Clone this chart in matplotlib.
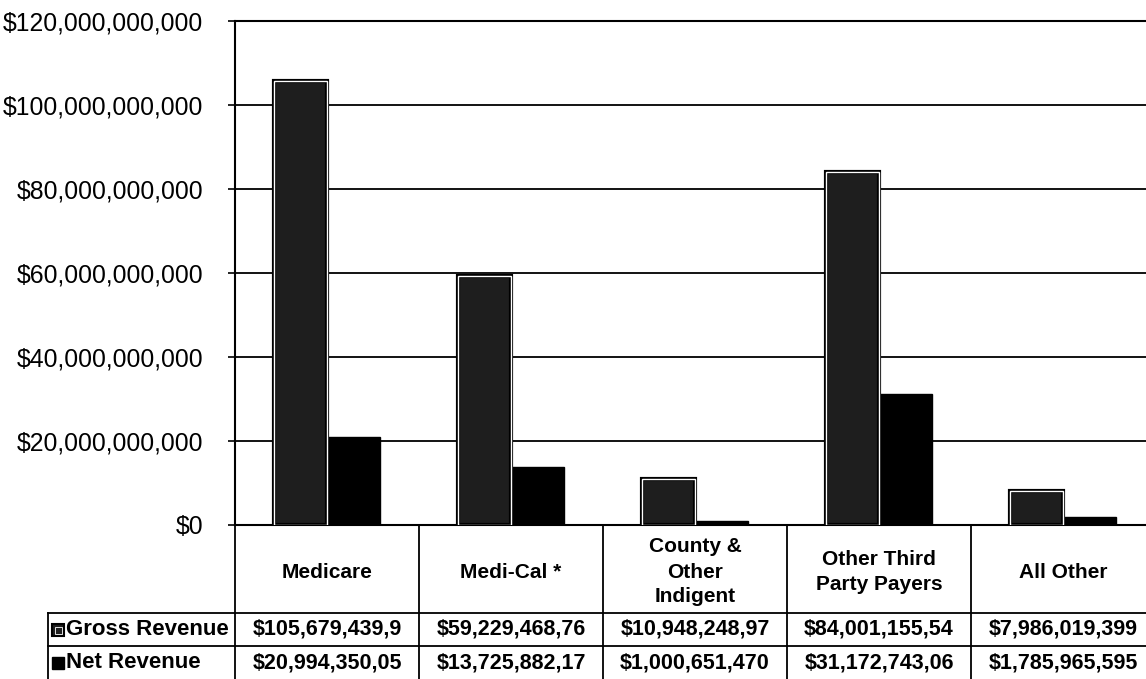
import matplotlib
matplotlib.use('Agg')
import matplotlib.pyplot as plt
import matplotlib.transforms as mtransforms
from matplotlib.patches import Rectangle
import numpy as np

plt.rcParams['font.family'] = ['Liberation Sans', 'DejaVu Sans']

categories = ['Medicare', 'Medi-Cal *', 'County &\nOther\nIndigent',
              'Other Third\nParty Payers', 'All Other']
gross = [105.679e9, 59.229e9, 10.948e9, 84.001e9, 7.986e9]
net = [20.994e9, 13.726e9, 1.0007e9, 31.173e9, 1.786e9]
gross_labels = ['$105,679,439,9', '$59,229,468,76', '$10,948,248,97',
                '$84,001,155,54', '$7,986,019,399']
net_labels = ['$20,994,350,05', '$13,725,882,17', '$1,000,651,470',
              '$31,172,743,06', '$1,785,965,595']
row_names = ['Gross Revenue', 'Net Revenue']
yticks = [0, 20e9, 40e9, 60e9, 80e9, 100e9, 120e9]

W, H = 1146, 679
fig = plt.figure(figsize=(W / 100, H / 100), dpi=100)

def fx(px):
    return px / W

def fy(py):
    return 1 - py / H

ax = fig.add_axes([fx(235), fy(525), fx(920), (525 - 21) / H])

x = np.arange(len(categories))
w = 0.29

# gross bars: black outline, thin white ring, dark fill
ax.bar(x - w / 2, gross, w, color='#1e1e1e', edgecolor='black', linewidth=3, zorder=3)
ax.bar(x - w / 2, gross, w, fill=False, edgecolor='white', linewidth=1, zorder=4)
ax.bar(x + w / 2, net, w, color='black', edgecolor='black', linewidth=1, zorder=3)

ax.set_xlim(-0.5, len(categories) - 0.5)
ax.set_ylim(0, 120e9)
ax.set_yticks(yticks)
ax.set_yticklabels(['${:,.0f}'.format(v) for v in yticks], fontsize=17.8)
ax.tick_params(axis='y', length=5, width=1.2, pad=18, color='black')
ax.set_xticks([])
ax.yaxis.grid(True, color='black', linewidth=1.3)
ax.set_axisbelow(True)
for side in ['left', 'top', 'bottom']:
    ax.spines[side].set_linewidth(1.5)
ax.spines['right'].set_visible(False)

# data table below the axes
blend = mtransforms.blended_transform_factory(ax.transData, fig.transFigure)
lw = 1.3
for b in np.arange(len(categories) + 1) - 0.5:
    ax.plot([b, b], [fy(525), fy(679)], color='black', lw=lw, transform=blend, clip_on=False)
for yy in [613, 646]:
    fig.add_artist(plt.Line2D([fx(48), 1], [fy(yy), fy(yy)], color='black', lw=lw))
fig.add_artist(plt.Line2D([fx(48), fx(48)], [fy(613), fy(679)], color='black', lw=lw))

for i, cat in enumerate(categories):
    ax.text(x[i], fy(572), cat, transform=blend, ha='center', va='center',
            fontsize=15, fontweight='bold', linespacing=1.4)
    ax.text(x[i], fy(629.5), gross_labels[i], transform=blend, ha='center', va='center',
            fontsize=15.5, fontweight='bold')
    ax.text(x[i], fy(662.5), net_labels[i], transform=blend, ha='center', va='center',
            fontsize=15.5, fontweight='bold')

# legend keys
fig.add_artist(Rectangle((fx(52), fy(636)), fx(12), 12 / H, facecolor='#1e1e1e',
                         edgecolor='black', lw=1.5))
fig.add_artist(Rectangle((fx(54.5), fy(633.5)), fx(7), 7 / H, fill=False,
                         edgecolor='white', lw=0.6))
fig.add_artist(Rectangle((fx(52), fy(669)), fx(12), 12 / H, facecolor='black',
                         edgecolor='black', lw=1))
fig.text(fx(66), fy(629.5), row_names[0], ha='left', va='center', fontsize=16,
         fontweight='bold')
fig.text(fx(66), fy(662.5), row_names[1], ha='left', va='center', fontsize=16,
         fontweight='bold')

fig.savefig('out.png', dpi=100)
